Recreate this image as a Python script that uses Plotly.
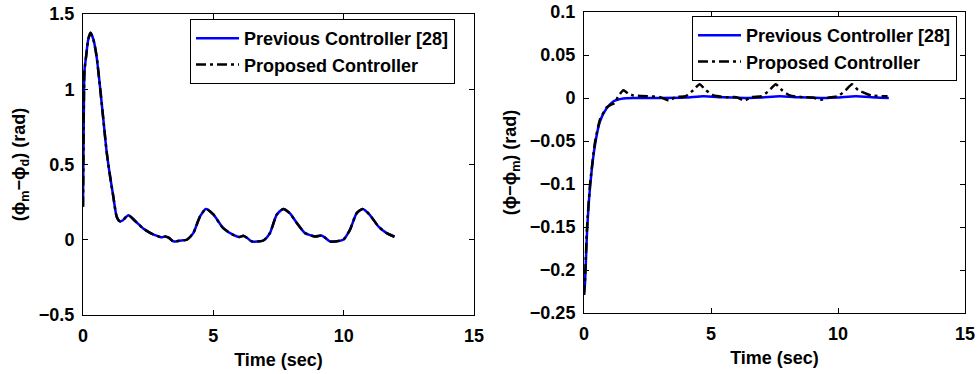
import plotly.graph_objects as go

# ---- Left panel: (phi_m - phi_d) tracking error ----
t_left = [0, 0.02, 0.04, 0.06, 0.12, 0.20, 0.29, 0.40, 0.52, 0.65, 0.78, 0.91, 1.04, 1.16,
          1.29, 1.42, 1.53, 1.74, 2.00, 2.31, 2.63, 2.90, 3.02, 3.15, 3.30, 3.47, 3.70, 3.98,
          4.23, 4.49, 4.72, 5.00, 5.38, 5.77, 6.00, 6.15, 6.30, 6.47, 6.92, 7.17, 7.43, 7.68,
          7.94, 8.20, 8.52, 8.90, 9.15, 9.30, 9.47, 9.98, 10.24, 10.50, 10.73, 11.00, 11.33,
          11.65, 11.95]
prev_left = [0.22, 0.62, 1.00, 1.13, 1.22, 1.33, 1.375, 1.33, 1.22, 1.02, 0.80, 0.58, 0.42, 0.29,
             0.155, 0.122, 0.13, 0.163, 0.125, 0.075, 0.04, 0.022, 0.016, 0.022, 0.012, -0.011,
             -0.006, 0.0, 0.044, 0.155, 0.205, 0.168, 0.077, 0.032, 0.018, 0.026, 0.012, -0.011,
             -0.005, 0.044, 0.166, 0.205, 0.175, 0.112, 0.044, 0.022, 0.028, 0.012, -0.011, 0.0,
             0.066, 0.177, 0.205, 0.166, 0.089, 0.044, 0.02]
prop_left = [0.22, 0.62, 1.00, 1.13, 1.22, 1.33, 1.375, 1.33, 1.22, 1.02, 0.80, 0.58, 0.42, 0.29,
             0.155, 0.122, 0.13, 0.163, 0.125, 0.075, 0.04, 0.022, 0.016, 0.022, 0.012, -0.011,
             -0.006, 0.0, 0.044, 0.155, 0.205, 0.168, 0.077, 0.032, 0.018, 0.026, 0.012, -0.011,
             -0.005, 0.044, 0.166, 0.205, 0.175, 0.112, 0.044, 0.022, 0.028, 0.012, -0.011, 0.0,
             0.066, 0.177, 0.205, 0.166, 0.089, 0.044, 0.02]

# ---- Right panel: (phi - phi_m) model-following error ----
t_prev_right = [0, 0.04, 0.12, 0.24, 0.43, 0.63, 0.89, 1.15, 1.54, 2.0, 3.0, 4.0, 4.7, 5.5,
                6.5, 7.0, 7.7, 8.5, 9.5, 10.0, 10.7, 11.5, 12.0]
prev_right = [-0.229, -0.215, -0.155, -0.103, -0.055, -0.027, -0.012, -0.004, -0.0005, 0.0,
              0.0, 0.0005, 0.002, 0.0008, 0.0, 0.0005, 0.002, 0.0008, 0.0, 0.0005, 0.002,
              0.0005, 0.0]
t_prop_right = [0, 0.04, 0.12, 0.24, 0.43, 0.63, 0.89, 1.05, 1.2, 1.35, 1.55, 1.75, 1.95, 2.5,
                3.0, 3.35, 3.6, 4.0, 4.3, 4.55, 4.8, 5.1, 5.6, 6.0, 6.3, 6.6, 7.0, 7.3, 7.55,
                7.8, 8.1, 8.6, 9.0, 9.34, 9.7, 10.0, 10.3, 10.55, 10.8, 11.3, 11.95]
prop_right = [-0.229, -0.21, -0.15, -0.10, -0.052, -0.025, -0.011, -0.008, -0.006, 0.002, 0.009,
              0.005, 0.003, 0.002, 0.001, -0.003, 0.001, 0.002, 0.009, 0.016, 0.009, 0.003,
              0.001, 0.001, -0.003, 0.001, 0.002, 0.009, 0.016, 0.009, 0.003, 0.001, 0.0005,
              -0.002, 0.001, 0.002, 0.009, 0.016, 0.009, 0.003, 0.002]

x_ticks = [0, 5, 10, 15]
left_y_ticks = [-0.5, 0, 0.5, 1, 1.5]
right_y_ticks = [-0.25, -0.2, -0.15, -0.1, -0.05, 0, 0.05, 0.1]

FONT = "Liberation Sans, Arial, Helvetica, sans-serif"
BLUE = "#0000ff"
DASHDOT = "10px,4px,3px,4px"
TXT = dict(family=FONT, size=18, color="black", weight="bold")

fig = go.Figure()

fig.add_trace(go.Scatter(x=t_left, y=prev_left, mode="lines", name="Previous Controller [28]",
                         line=dict(color=BLUE, width=2.5, shape="spline", smoothing=0.6),
                         xaxis="x", yaxis="y", legend="legend"))
fig.add_trace(go.Scatter(x=t_left, y=prop_left, mode="lines", name="Proposed Controller",
                         line=dict(color="black", width=2.5, dash=DASHDOT, shape="spline",
                                   smoothing=0.6),
                         xaxis="x", yaxis="y", legend="legend"))
fig.add_trace(go.Scatter(x=t_prev_right, y=prev_right, mode="lines",
                         name="Previous Controller [28]",
                         line=dict(color=BLUE, width=2.5, shape="spline", smoothing=0.6),
                         xaxis="x2", yaxis="y2", legend="legend2"))
fig.add_trace(go.Scatter(x=t_prop_right, y=prop_right, mode="lines", name="Proposed Controller",
                         line=dict(color="black", width=2.5, dash=DASHDOT, shape="spline",
                                   smoothing=0.5),
                         xaxis="x2", yaxis="y2", legend="legend2"))

W, H = 978, 374


def ax_common():
    return dict(showline=True, linecolor="black", linewidth=1, mirror="ticks",
                ticks="inside", ticklen=5, tickcolor="black", tickwidth=1,
                showgrid=False, zeroline=False, automargin=False,
                tickfont=TXT)


xa = ax_common()
xa.update(range=[0, 15], tickvals=x_ticks, ticklabelstandoff=4,
          title=dict(text="Time (sec)", standoff=8, font=TXT))

legend_style = dict(bgcolor="white", bordercolor="black", borderwidth=1, font=TXT,
                    xanchor="right", yanchor="top", tracegroupgap=0, itemwidth=43)

fig.update_layout(
    width=W, height=H,
    margin=dict(l=0, r=0, t=0, b=0, autoexpand=False),
    paper_bgcolor="white", plot_bgcolor="white",
    font=TXT,
    xaxis=dict(**xa, domain=[83 / W, 474 / W], anchor="y"),
    xaxis2=dict(**xa, domain=[584 / W, 965 / W], anchor="y2"),
    yaxis=dict(**ax_common(), domain=[1 - 315 / H, 1 - 14 / H], anchor="x",
               range=[-0.5, 1.5], tickvals=left_y_ticks, ticklabelstandoff=4,
               title=dict(text="(ϕ<sub>m</sub>−ϕ<sub>d</sub>) (rad)", standoff=8, font=TXT)),
    yaxis2=dict(**ax_common(), domain=[1 - 313 / H, 1 - 12 / H], anchor="x2",
                range=[-0.25, 0.1], tickvals=right_y_ticks, ticklabelstandoff=4,
                title=dict(text="(ϕ−ϕ<sub>m</sub>) (rad)", standoff=8, font=TXT)),
    legend=dict(**legend_style, x=455 / W, y=1 - 19 / H),
    legend2=dict(**legend_style, x=957 / W, y=1 - 16 / H),
)

fig.write_html("out.html")
